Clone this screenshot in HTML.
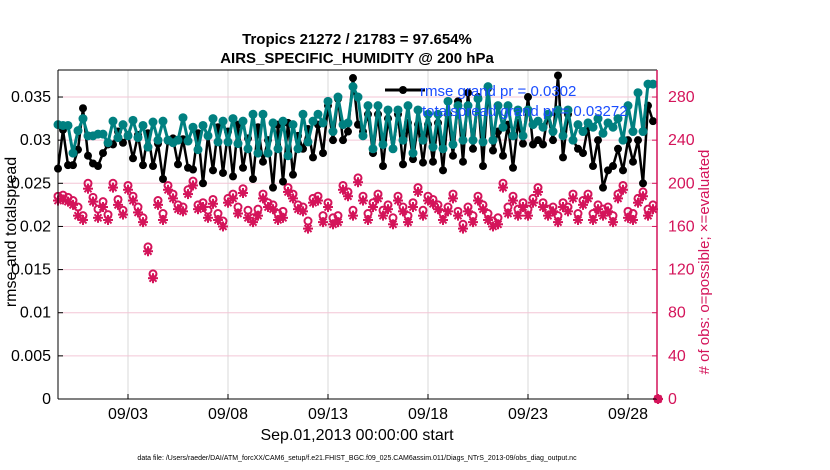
<!DOCTYPE html>
<html><head><meta charset="utf-8"><style>
body{margin:0;background:#fff;}
svg{display:block;font-family:"Liberation Sans",sans-serif;}
</style></head><body>
<svg id="chart" width="830" height="470">
<rect x="0" y="0" width="830" height="470" fill="#fff"/>
<g id="grid"></g>
<g id="marks"></g>
<g id="axes"></g>
<text x="357" y="44" text-anchor="middle" font-size="15" font-weight="bold">Tropics 21272 / 21783 = 97.654%</text>
<text x="357" y="63" text-anchor="middle" font-size="15" font-weight="bold">AIRS_SPECIFIC_HUMIDITY @ 200 hPa</text>
<text transform="translate(16,232) rotate(-90)" text-anchor="middle" font-size="16">rmse and totalspread</text>
<text transform="translate(709,262) rotate(-90)" text-anchor="middle" font-size="15" fill="#d4145a"># of obs: o=possible; ×=evaluated</text>
<text x="357" y="440" text-anchor="middle" font-size="16">Sep.01,2013 00:00:00 start</text>
<text x="357" y="460" text-anchor="middle" font-size="7">data file: /Users/raeder/DAI/ATM_forcXX/CAM6_setup/f.e21.FHIST_BGC.f09_025.CAM6assim.011/Diags_NTrS_2013-09/obs_diag_output.nc</text>
<g>
<line x1="385" y1="90" x2="425" y2="90" stroke="#000" stroke-width="3"/>
<circle cx="403" cy="90" r="4" fill="#000"/>
<text x="420" y="96" font-size="15" fill="#1a4dff">rmse grand pr = 0.0302</text>
<text x="422" y="116" font-size="15" fill="#1a4dff">totalspread grand pr = 0.03272</text>
</g>
</svg>
<script>
const rmse=[0.0267,0.0312,0.0271,0.0271,0.0289,0.0337,0.0282,0.0273,0.027,0.0285,0.0295,0.0295,0.031,0.0297,0.0306,0.0279,0.0306,0.0271,0.0308,0.027,0.0296,0.0255,0.0299,0.0302,0.0272,0.0301,0.0268,0.0266,0.0308,0.0250,
0.0305,0.0265,0.0315,0.0262,0.0310,0.0258,0.0318,0.0268,0.0302,0.0255,0.0315,0.0275,0.0300,0.0245,0.0318,0.0252,0.0320,0.0260,0.0305,0.0290,0.0313,0.0280,0.0318,0.0285,0.0340,0.0300,0.0348,0.0300,0.0310,0.0372,
0.0318,0.0310,0.0330,0.0285,0.0330,0.0270,0.0325,0.0290,0.0330,0.0272,0.0320,0.0278,0.0318,0.0274,0.0318,0.0275,0.0320,0.0265,0.0330,0.0282,0.0345,0.0275,0.0355,0.0290,0.0350,0.0270,0.0360,0.0288,0.0310,0.0282,
0.0318,0.0268,0.0320,0.0296,0.0350,0.0295,0.0300,0.0295,0.0330,0.0300,0.0375,0.0280,0.0330,0.0300,0.0290,0.0285,0.0315,0.0270,0.0300,0.0245,0.0265,0.0270,0.0290,0.0265,0.0300,0.0275,0.0300,0.0250,0.0340,0.0322];
const spread=[0.0318,0.0317,0.0317,0.0285,0.0311,0.0325,0.0305,0.0305,0.0307,0.0307,0.0297,0.0322,0.0303,0.0318,0.0305,0.0323,0.0303,0.0317,0.0292,0.0321,0.0300,0.0322,0.0300,0.0297,0.0300,0.0326,0.0299,0.0315,0.0289,0.0317,
0.0305,0.0325,0.0298,0.0322,0.0298,0.0325,0.0296,0.0322,0.0290,0.0330,0.0285,0.0330,0.0285,0.0320,0.0290,0.0322,0.0282,0.0318,0.0290,0.0330,0.0298,0.0322,0.0330,0.0320,0.0345,0.0310,0.0350,0.0318,0.0320,0.0362,
0.0350,0.0305,0.0340,0.0290,0.0340,0.0295,0.0335,0.0290,0.0335,0.0300,0.0340,0.0285,0.0335,0.0300,0.0330,0.0292,0.0330,0.0290,0.0345,0.0295,0.0340,0.0300,0.0340,0.0300,0.0348,0.0298,0.0362,0.0300,0.0340,0.0315,
0.0340,0.0305,0.0335,0.0305,0.0335,0.0318,0.0322,0.0315,0.0330,0.0310,0.0335,0.0305,0.0335,0.0300,0.0318,0.0310,0.0320,0.0315,0.0325,0.0308,0.0320,0.0315,0.0325,0.0300,0.0340,0.0310,0.0355,0.0310,0.0365,0.0365];
const possible=[188,189,187,184,178,170,200,187,176,183,171,200,185,175,198,188,178,168,141,116,184,172,198,190,180,178,194,202,180,182,
175,185,172,165,186,190,178,195,175,168,176,190,182,180,172,174,196,190,180,178,165,186,188,170,182,168,170,198,192,175,
205,188,172,182,190,175,180,168,188,178,170,182,196,175,188,185,180,172,178,190,174,162,178,170,188,180,172,165,168,200,
178,188,176,182,176,186,196,182,176,178,170,182,178,190,172,184,190,172,180,176,178,170,190,198,174,172,186,192,176,180,0];
const evaluated=[184,185,183,180,170,166,195,183,168,178,166,196,180,171,194,184,173,164,137,112,180,166,194,186,176,174,190,198,176,178,
168,181,166,160,182,186,172,191,168,164,170,186,178,176,166,168,192,186,176,174,158,182,184,164,178,162,164,194,188,170,
201,184,166,178,186,170,176,162,184,174,164,178,192,170,184,181,176,166,174,186,170,158,174,164,184,176,166,160,162,196,
172,184,170,178,170,182,192,178,170,174,164,178,174,186,166,180,186,166,176,170,174,164,186,194,168,166,182,188,170,176,0];
const xTickLabels=["09/03","09/08","09/13","09/18","09/23","09/28"];
const xTickDays=[2,7,12,17,22,27];
const leftTicks=[0,0.005,0.01,0.015,0.02,0.025,0.03,0.035];
const rightTicks=[0,40,80,120,160,200,240,280];

const L=58,R=657,T=70,B=399;
const xs=d=>88+20*d;
const dayOf=i=>-1.5+0.25*i;
const yl=v=>B-v/0.005*43.14;
const yr=n=>B-n/40*43.14;
const NS='http://www.w3.org/2000/svg';
function mk(tag,attrs,parent){const e=document.createElementNS(NS,tag);for(const k in attrs)e.setAttribute(k,attrs[k]);parent.appendChild(e);return e;}
const grid=document.getElementById('grid'),marks=document.getElementById('marks'),axes=document.getElementById('axes');
const PINK='#d4145a',TEAL='#008080';

xTickDays.forEach((d,i)=>{
  const g=mk('line',{x1:xs(d),x2:xs(d),y1:T,y2:B,stroke:'#d8d8d8','stroke-width':1},grid);
  
  
  mk('line',{x1:xs(d),x2:xs(d),y1:B,y2:B-5,stroke:'#000'},axes);
  const t=mk('text',{x:xs(d),y:B+20,'text-anchor':'middle','font-size':16},axes);
  t.textContent=xTickLabels[i];
  
  
});
rightTicks.forEach(n=>{
  if(n>0){const g=mk('line',{x1:L,x2:R,y1:yr(n),y2:yr(n),stroke:'#f3c6d6','stroke-width':1},grid);
  
  }
  mk('line',{x1:R,x2:R-5,y1:yr(n),y2:yr(n),stroke:PINK},axes);
  const t=mk('text',{x:668,y:yr(n)+5,'font-size':16,fill:PINK},axes);
  t.textContent=String(n);
  
  
});
leftTicks.forEach(v=>{
  mk('line',{x1:L,x2:L+5,y1:yl(v),y2:yl(v),stroke:'#000'},axes);
  const t=mk('text',{x:51,y:yl(v)+5,'text-anchor':'end','font-size':16},axes);
  t.textContent=String(v);
  
  
});
mk('line',{x1:L,x2:R,y1:T,y2:T,stroke:'#000'},axes);
mk('line',{x1:L,x2:R,y1:B,y2:B,stroke:'#000'},axes);
mk('line',{x1:L,x2:L,y1:T,y2:B,stroke:'#000'},axes);
mk('line',{x1:R,x2:R,y1:T,y2:B,stroke:PINK,'stroke-width':1.5},axes);

possible.forEach((n,i)=>{
  const x=xs(dayOf(i)),y=yr(evaluated[i]);
  const g=mk('g',{stroke:PINK,'stroke-width':2},marks);
  
  
  [[0,1],[1,0],[0.7,0.7],[0.7,-0.7]].forEach(([a,b])=>mk('line',{x1:x-a*5,y1:y-b*5,x2:x+a*5,y2:y+b*5},g));
  const c=mk('circle',{cx:x,cy:yr(n),r:3.5,fill:'none',stroke:PINK,'stroke-width':2},marks);
  
  
});
function series(arr,color,r,w,name){
  const pts=arr.map((v,i)=>xs(dayOf(i)).toFixed(1)+','+yl(v).toFixed(1)).join(' ');
  const p=mk('polyline',{points:pts,fill:'none',stroke:color,'stroke-width':w,'stroke-linejoin':'round'},marks);
  
  
  arr.forEach((v,i)=>{
    const c=mk('circle',{cx:xs(dayOf(i)),cy:yl(v),r:r,fill:color},marks);
    
    
  });
}
series(rmse,'#000',4,2.5,'rmse');
series(spread,TEAL,4.5,3,'totalspread');
</script>
</body></html>
